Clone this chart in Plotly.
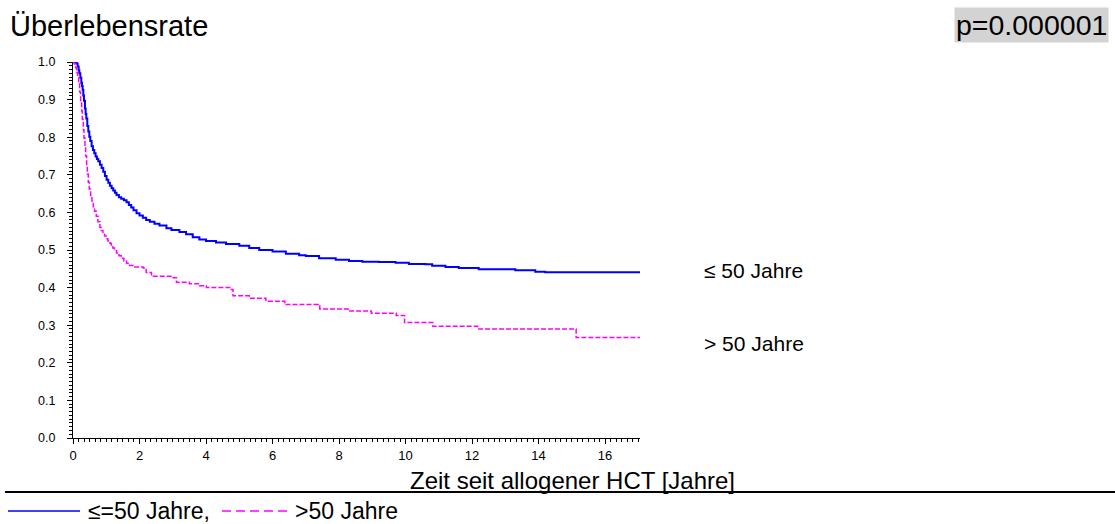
import plotly.graph_objects as go

# Kaplan-Meier survival estimates (time in years, survival probability)
t_young = [0, 0.04, 0.08, 0.11, 0.14, 0.17, 0.19, 0.22, 0.25, 0.27, 0.29, 0.31, 0.33, 0.36,
           0.38, 0.40, 0.43, 0.46, 0.49, 0.52, 0.56, 0.60, 0.64, 0.68, 0.72, 0.76, 0.81,
           0.86, 0.91, 0.96, 1.01, 1.06, 1.11, 1.16, 1.21, 1.26, 1.31, 1.38, 1.45, 1.53,
           1.61, 1.68, 1.75, 1.82, 1.91, 2.00, 2.10, 2.20, 2.31, 2.45, 2.60, 2.81, 2.96,
           3.20, 3.40, 3.60, 3.80, 4.00, 4.30, 4.60, 5.00, 5.30, 5.60, 6.00, 6.40, 6.80,
           7.00, 7.40, 7.90, 8.30, 8.70, 9.20, 9.70, 10.10, 10.60, 10.80, 11.20, 11.60,
           12.20, 13.30, 13.90, 14.20, 17.08]
s_young = [1.0, 0.999, 0.998, 0.996, 0.988, 0.978, 0.970, 0.958, 0.945, 0.936, 0.926,
           0.911, 0.897, 0.876, 0.862, 0.850, 0.830, 0.815, 0.801, 0.790, 0.776, 0.766,
           0.757, 0.749, 0.742, 0.736, 0.727, 0.718, 0.708, 0.697, 0.687, 0.679, 0.671,
           0.664, 0.658, 0.652, 0.646, 0.640, 0.636, 0.632, 0.627, 0.620, 0.613, 0.606,
           0.598, 0.592, 0.586, 0.580, 0.575, 0.570, 0.565, 0.558, 0.553, 0.548, 0.542,
           0.534, 0.528, 0.524, 0.520, 0.516, 0.511, 0.505, 0.500, 0.496, 0.490, 0.486,
           0.484, 0.478, 0.474, 0.471, 0.469, 0.468, 0.466, 0.463, 0.462, 0.458, 0.455,
           0.452, 0.449, 0.446, 0.442, 0.441, 0.441]

t_old = [0, 0.04, 0.08, 0.11, 0.14, 0.17, 0.20, 0.23, 0.26, 0.28, 0.31, 0.33, 0.36, 0.38,
         0.41, 0.43, 0.46, 0.49, 0.53, 0.57, 0.61, 0.65, 0.70, 0.75, 0.81, 0.85, 0.90,
         0.95, 1.00, 1.05, 1.11, 1.15, 1.20, 1.25, 1.31, 1.38, 1.45, 1.53, 1.61, 1.70,
         1.81, 2.11, 2.20, 2.36, 3.01, 3.11, 3.50, 3.81, 4.01, 4.71, 4.81, 5.30, 5.80,
         6.37, 7.37, 7.42, 8.27, 8.97, 9.72, 9.97, 10.82, 12.17, 15.13, 17.08]
s_old = [1.0, 0.995, 0.985, 0.972, 0.960, 0.942, 0.920, 0.895, 0.870, 0.847, 0.820, 0.798,
         0.775, 0.750, 0.725, 0.702, 0.680, 0.662, 0.645, 0.630, 0.615, 0.603, 0.590,
         0.575, 0.560, 0.552, 0.545, 0.537, 0.530, 0.524, 0.518, 0.511, 0.505, 0.499,
         0.492, 0.485, 0.478, 0.471, 0.465, 0.459, 0.455, 0.452, 0.440, 0.430, 0.426,
         0.414, 0.410, 0.405, 0.400, 0.395, 0.378, 0.372, 0.364, 0.355, 0.352, 0.343,
         0.338, 0.332, 0.326, 0.307, 0.297, 0.290, 0.267, 0.267]

x_ticks = [0, 2, 4, 6, 8, 10, 12, 14, 16]
y_ticks = [0.0, 0.1, 0.2, 0.3, 0.4, 0.5, 0.6, 0.7, 0.8, 0.9, 1.0]

BLUE = "#0000ff"
MAGENTA = "#ff00ff"
FONT = "Liberation Sans, Arial, Helvetica, sans-serif"

W, H = 1115, 524
L, R, T, B = 73, 640, 62, 438  # plot area in pixels


def px(x):
    return (x - L) / (R - L)


def py(y):
    return (B - y) / (B - T)


fig = go.Figure()
fig.add_trace(go.Scatter(x=t_young, y=s_young, mode="lines", line_shape="hv",
                         line=dict(color=BLUE, width=2), showlegend=False))
fig.add_trace(go.Scatter(x=t_old, y=s_old, mode="lines", line_shape="hv",
                         line=dict(color=MAGENTA, width=1.5, dash="5px,2px"),
                         showlegend=False))

fig.update_xaxes(range=[0, 17.05], tickvals=x_ticks, ticktext=[str(v) for v in x_ticks],
                 showline=True, linecolor="black", linewidth=1, showgrid=False,
                 zeroline=False, ticks="outside", ticklen=5, tickcolor="black",
                 tickfont=dict(size=13, color="black", family=FONT),
                 minor=dict(dtick=1 / 6, tick0=0, ticks="outside", ticklen=3,
                            tickcolor="black", showgrid=False))
fig.update_yaxes(range=[0, 1.0], tickvals=y_ticks, ticktext=[f"{v:.1f}" for v in y_ticks],
                 showline=True, linecolor="black", linewidth=1, showgrid=False,
                 zeroline=False, ticks="outside", ticklen=5, tickcolor="black",
                 ticklabelstandoff=9,
                 tickfont=dict(size=12.5, color="black", family=FONT),
                 minor=dict(dtick=0.01, tick0=0, ticks="outside", ticklen=3,
                            tickcolor="black", showgrid=False))

ann = []
# title and p-value
ann.append(dict(text="Überlebensrate", xref="paper", yref="paper", x=px(8), y=py(26),
                xanchor="left", yanchor="middle", showarrow=False,
                font=dict(size=29, color="black", family=FONT)))
ann.append(dict(text="p=0.000001", xref="paper", yref="paper", x=px(1109), y=py(25),
                xanchor="right", yanchor="middle", showarrow=False, bgcolor="#d3d3d3",
                borderpad=1, font=dict(size=28.5, color="black", family=FONT)))
# curve labels
ann.append(dict(text="≤ 50 Jahre", xref="paper", yref="paper", x=px(702), y=py(270),
                xanchor="left", yanchor="middle", showarrow=False,
                font=dict(size=21, color="black", family=FONT)))
ann.append(dict(text="> 50 Jahre", xref="paper", yref="paper", x=px(702), y=py(343),
                xanchor="left", yanchor="middle", showarrow=False,
                font=dict(size=21, color="black", family=FONT)))
# x axis title
ann.append(dict(text="Zeit seit allogener HCT [Jahre]", xref="paper", yref="paper",
                x=px(572), y=py(480), xanchor="center", yanchor="middle", showarrow=False,
                font=dict(size=24, color="black", family=FONT)))
# legend texts
ann.append(dict(text="≤=50 Jahre,", xref="paper", yref="paper", x=px(86), y=py(511),
                xanchor="left", yanchor="middle", showarrow=False,
                font=dict(size=23, color="black", family=FONT)))
ann.append(dict(text=">50 Jahre", xref="paper", yref="paper", x=px(293), y=py(511),
                xanchor="left", yanchor="middle", showarrow=False,
                font=dict(size=23, color="black", family=FONT)))

shapes = [
    # separator line above the legend
    dict(type="line", xref="paper", yref="paper", x0=px(5), x1=px(1115),
         y0=py(492), y1=py(492), line=dict(color="black", width=2)),
    # legend samples
    dict(type="line", xref="paper", yref="paper", x0=px(8), x1=px(80),
         y0=py(511), y1=py(511), line=dict(color=BLUE, width=1.5)),
    dict(type="line", xref="paper", yref="paper", x0=px(222), x1=px(288),
         y0=py(511), y1=py(511), line=dict(color=MAGENTA, width=1.5, dash="9px,5px")),
]

fig.update_layout(width=W, height=H, margin=dict(l=L, r=W - R, t=T, b=H - B),
                  paper_bgcolor="white", plot_bgcolor="white",
                  annotations=ann, shapes=shapes, showlegend=False,
                  font=dict(family=FONT, color="black"))

fig.write_html("out.html")
